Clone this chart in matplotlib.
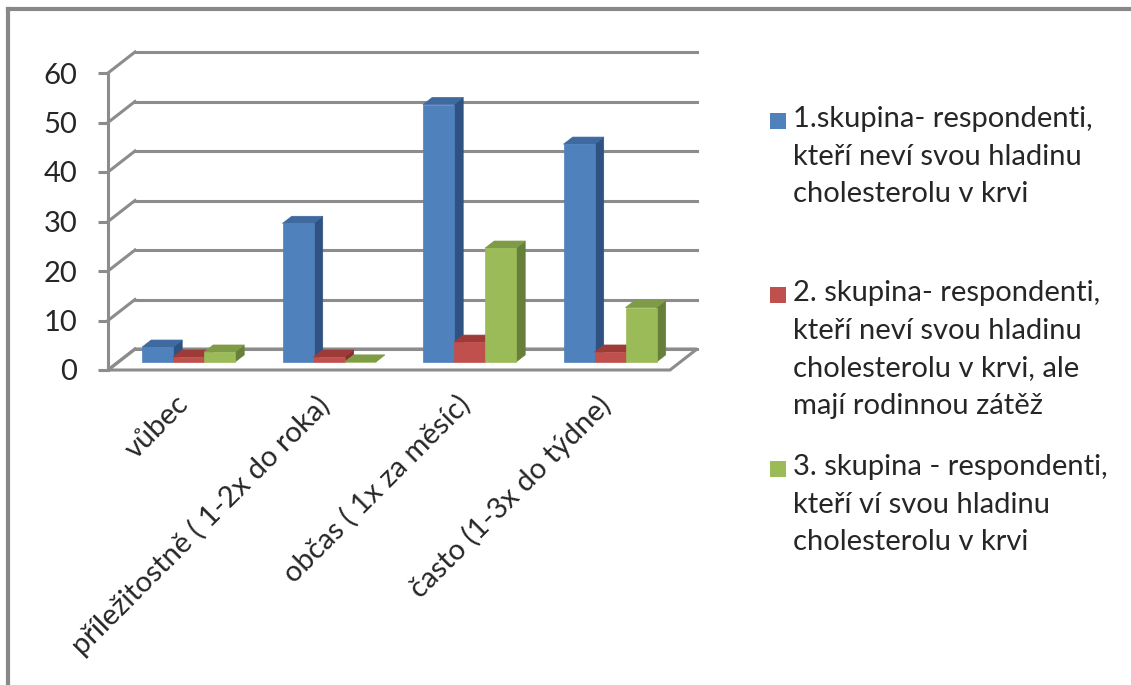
import matplotlib.pyplot as plt
from matplotlib.patches import Polygon, Rectangle
from matplotlib.lines import Line2D

plt.rcParams['font.family'] = ['Lato', 'DejaVu Sans']

categories = ['vůbec', 'příležitostně ( 1-2x do roka)', 'občas ( 1x za měsíc)', 'často (1-3x do týdne)']
series_names = ['1.skupina- respondenti,\nkteří neví svou hladinu\ncholesterolu v krvi',
                '2. skupina- respondenti,\nkteří neví svou hladinu\ncholesterolu v krvi, ale\nmají rodinnou zátěž',
                '3. skupina - respondenti,\nkteří ví svou hladinu\ncholesterolu v krvi']
group1 = [3, 28, 52, 44]
group2 = [1, 1, 4, 2]
group3 = [2, 0, 23, 11]
values = [group1, group2, group3]

front_colors = ['#4F81BD', '#C0504D', '#9BBB59']
top_colors = ['#3E6AA0', '#9C3B38', '#7E9C46']
side_colors = ['#2F5282', '#862F2D', '#66803A']
grid_color = '#8C8C8C'
text_color = '#262626'

W, H = 1131, 685
fig = plt.figure(figsize=(W / 100, H / 100), dpi=100)

# front plane of the 3D box, in pixels
x_left, x_right = 108, 670
y_zero, y_top = 370, 73
ax = fig.add_axes([x_left / W, 1 - y_zero / H, (x_right - x_left) / W, (y_zero - y_top) / H])
n = len(categories)
ax.set_xlim(0, n)
ax.set_ylim(0, 60)

# depth offset of the back wall in data units
DX = 27 / ((x_right - x_left) / n)
DY = 21 / ((y_zero - y_top) / 60)

for s in ['top', 'right', 'bottom']:
    ax.spines[s].set_visible(False)
ax.spines['left'].set_color(grid_color)
ax.spines['left'].set_linewidth(2.2)
ax.set_yticks(range(0, 61, 10))
ax.tick_params(axis='y', length=7, width=2.2, color=grid_color, labelsize=21, pad=15, labelcolor=text_color)

# floor
ax.add_patch(Polygon([(0, 0), (n, 0), (n + DX, DY), (DX, DY)], closed=True,
                     facecolor='white', edgecolor=grid_color, lw=2.2, clip_on=False, zorder=1))
# gridlines on back wall and left side
for v in range(0, 61, 10):
    ax.add_line(Line2D([DX, n + DX], [v + DY, v + DY], color=grid_color, lw=2.2, clip_on=False, zorder=1))
    ax.add_line(Line2D([0, DX], [v, v + DY], color=grid_color, lw=2.2, clip_on=False, zorder=1))

# bars
bw = 31 / ((x_right - x_left) / n)
fd, bd = 0.38, 0.72
z = 3
for i in range(n):
    for j in range(len(values)):
        v = values[j][i]
        x0 = i + 0.5 - 1.5 * bw + j * bw
        x1 = x0 + bw
        fx, fy = fd * DX, fd * DY
        bx, by = bd * DX, bd * DY
        side = [(x1 + fx, fy), (x1 + bx, by), (x1 + bx, v + by), (x1 + fx, v + fy)]
        top = [(x0 + fx, v + fy), (x1 + fx, v + fy), (x1 + bx, v + by), (x0 + bx, v + by)]
        front = [(x0 + fx, fy), (x1 + fx, fy), (x1 + fx, v + fy), (x0 + fx, v + fy)]
        ax.add_patch(Polygon(side, closed=True, facecolor=side_colors[j], edgecolor=side_colors[j],
                             lw=0.5, clip_on=False, zorder=z))
        ax.add_patch(Polygon(top, closed=True, facecolor=top_colors[j], edgecolor=top_colors[j],
                             lw=0.5, clip_on=False, zorder=z))
        ax.add_patch(Polygon(front, closed=True, facecolor=front_colors[j], edgecolor=front_colors[j],
                             lw=0.5, clip_on=False, zorder=z))
        z += 1

ax.set_xticks([i + 0.5 - 0.02 for i in range(n)])
ax.set_xticklabels(categories, rotation=45, ha='right', rotation_mode='anchor', fontsize=21, color=text_color)
ax.tick_params(axis='x', length=0, pad=15)

# legend
for j, name in enumerate(series_names):
    top_px = 113 + j * 174
    fig.patches.append(Rectangle((770 / W, 1 - (top_px + 16) / H), 16 / W, 16 / H,
                                 transform=fig.transFigure, facecolor=front_colors[j], edgecolor='none'))
    fig.text(793 / W, 1 - (top_px - 7) / H, name, ha='left', va='top', fontsize=21,
             linespacing=1.55, color=text_color)

# outer frame
fig.add_artist(Line2D([8 / W, 8 / W], [0, 1 - 9 / H], color='#888888', lw=3, transform=fig.transFigure))
fig.add_artist(Line2D([8 / W, 1], [1 - 9 / H, 1 - 9 / H], color='#888888', lw=3, transform=fig.transFigure))

fig.savefig('out.png', dpi=100)
